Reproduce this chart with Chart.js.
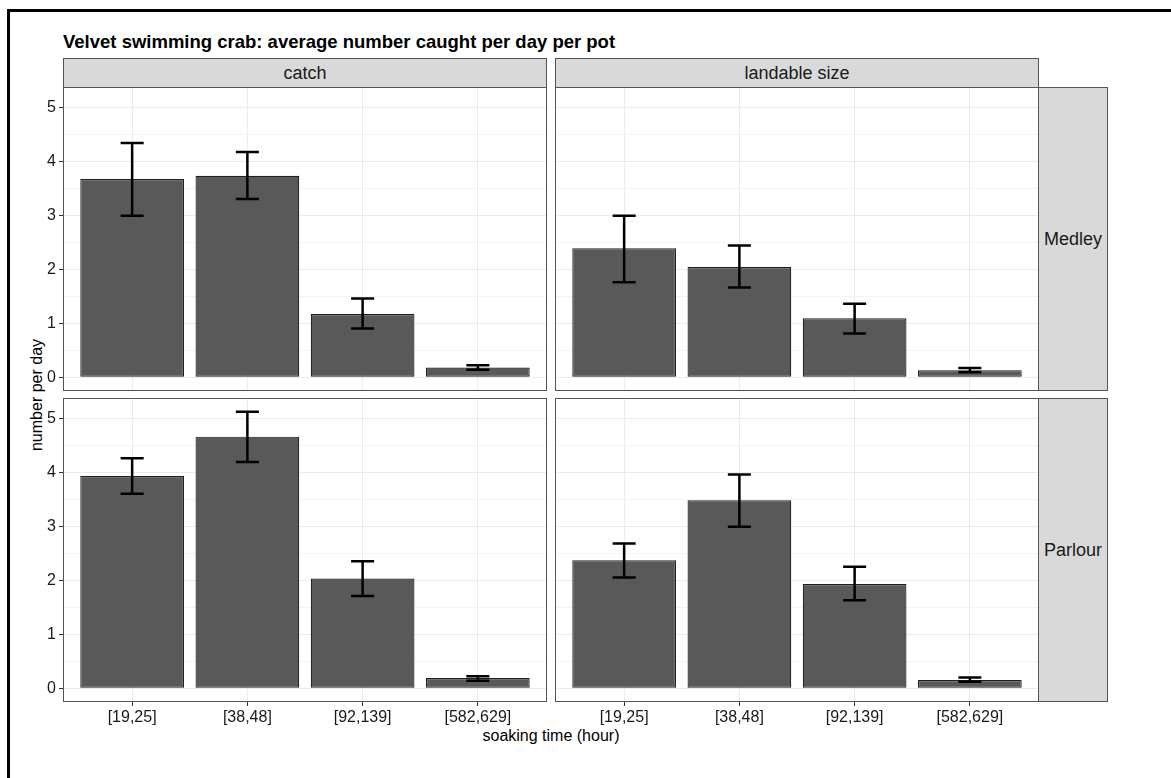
<!DOCTYPE html>
<html>
<head>
<meta charset="utf-8">
<script src="https://cdn.jsdelivr.net/npm/chart.js@4.4.0/dist/chart.umd.min.js"></script>
<style>
  body { margin: 0; width: 1171px; height: 778px; position: relative; overflow: hidden; background: #fff;
         font-family: "Liberation Sans", Arial, sans-serif; color: #000; }
  .frame { position: absolute; left: 7px; top: 9px; width: 1300px; height: 900px;
           border-left: 3px solid #000; border-top: 3px solid #000; }
  .title { position: absolute; left: 63px; top: 31px; font-weight: bold; font-size: 18.5px; line-height: 22px; }
  .strip { position: absolute; background: #d9d9d9; border: 1px solid #555; box-sizing: border-box;
           display: flex; align-items: center; justify-content: center; font-size: 18px; color: #1a1a1a; }
  .axtitle { position: absolute; font-size: 16px; line-height: 18px; white-space: nowrap; }
  canvas { position: absolute; }
</style>
</head>
<body>
<div class="frame"></div>
<div class="title">Velvet swimming crab: average number caught per day per pot</div>
<div class="axtitle" id="xtitle">soaking time (hour)</div>
<div class="axtitle" id="ytitle">number per day</div>

<script>
const soakTimes = ["[19,25]", "[38,48]", "[92,139]", "[582,629]"];
const columnNames = ["catch", "landable size"];
const rowNames = ["Medley", "Parlour"];

// mean and error bar ends
const medleyCatch = [3.67, 3.73, 1.17, 0.18];
const medleyCatchLow = [2.99, 3.30, 0.90, 0.14];
const medleyCatchHigh = [4.34, 4.17, 1.46, 0.22];

const medleyLandable = [2.39, 2.04, 1.09, 0.13];
const medleyLandableLow = [1.76, 1.66, 0.81, 0.09];
const medleyLandableHigh = [2.99, 2.44, 1.36, 0.17];

const parlourCatch = [3.93, 4.66, 2.03, 0.19];
const parlourCatchLow = [3.60, 4.19, 1.71, 0.14];
const parlourCatchHigh = [4.26, 5.12, 2.35, 0.22];

const parlourLandable = [2.37, 3.48, 1.93, 0.15];
const parlourLandableLow = [2.05, 2.99, 1.63, 0.12];
const parlourLandableHigh = [2.68, 3.96, 2.25, 0.20];

const yTicks = [0, 1, 2, 3, 4, 5];

const panels = [
  { row: 0, col: 0, mean: medleyCatch, low: medleyCatchLow, high: medleyCatchHigh },
  { row: 0, col: 1, mean: medleyLandable, low: medleyLandableLow, high: medleyLandableHigh },
  { row: 1, col: 0, mean: parlourCatch, low: parlourCatchLow, high: parlourCatchHigh },
  { row: 1, col: 1, mean: parlourLandable, low: parlourLandableLow, high: parlourLandableHigh },
];

// layout (ggplot-like facet grid)
const panelLeft = [63, 555];
const panelTop = [87, 398];
const panelW = 484;
const panelH = 304;
const yAxisW = 22;
const xAxisH = 28;

// shared y range with 5% expansion like ggplot
const yMax = Math.max(...panels.flatMap((p) => p.high));
const yMin = 0;
const ySpan = yMax - yMin;

const gridMajor = "#ebebeb";
const gridMinor = "#f4f4f4";
const tickFont = { family: "Liberation Sans", size: 16 };

function addDiv(cls, left, top, width, height, text) {
  const d = document.createElement("div");
  d.className = cls;
  d.style.left = left + "px";
  d.style.top = top + "px";
  d.style.width = width + "px";
  d.style.height = height + "px";
  d.textContent = text;
  document.body.appendChild(d);
}

columnNames.forEach((name, c) => addDiv("strip", panelLeft[c], 58, panelW, 30, name));
rowNames.forEach((name, r) => addDiv("strip", panelLeft[1] + panelW - 1, panelTop[r], 70, panelH, name));

const xt = document.getElementById("xtitle");
xt.style.left = (panelLeft[0] + (panelLeft[1] + panelW - panelLeft[0]) / 2 - 80) + "px";
xt.style.top = "727px";
xt.style.width = "160px";
xt.style.textAlign = "center";
const yt = document.getElementById("ytitle");
yt.style.left = (37 - 80) + "px";
yt.style.top = (panelTop[0] + (panelTop[1] + panelH - panelTop[0]) / 2 - 9) + "px";
yt.style.width = "160px";
yt.style.textAlign = "center";
yt.style.transform = "rotate(-90deg)";

const errorBars = {
  id: "errorBars",
  afterDatasetsDraw(chart) {
    const ds = chart.data.datasets[0];
    const xs = chart.scales.x;
    const ys = chart.scales.y;
    const ctx = chart.ctx;
    ctx.save();
    ctx.strokeStyle = "#000";
    ctx.lineWidth = 2.5;
    ds.low.forEach((lo, i) => {
      const x = xs.getPixelForValue(i + 1);
      const xl = xs.getPixelForValue(i + 0.9);
      const xr = xs.getPixelForValue(i + 1.1);
      const yl = ys.getPixelForValue(lo);
      const yh = ys.getPixelForValue(ds.high[i]);
      ctx.beginPath();
      ctx.moveTo(x, yl); ctx.lineTo(x, yh);
      ctx.moveTo(xl, yl); ctx.lineTo(xr, yl);
      ctx.moveTo(xl, yh); ctx.lineTo(xr, yh);
      ctx.stroke();
    });
    ctx.restore();
  },
  afterDraw(chart) {
    const a = chart.chartArea;
    const ctx = chart.ctx;
    ctx.save();
    ctx.strokeStyle = "#555";
    ctx.lineWidth = 1;
    ctx.strokeRect(a.left + 0.5, a.top + 0.5, a.right - a.left - 1, a.bottom - a.top - 1);
    ctx.restore();
  },
};

panels.forEach((p) => {
  const showY = p.col === 0;
  const showX = p.row === 1;
  const w = panelW + (showY ? yAxisW : 0);
  const h = panelH + (showX ? xAxisH : 0);
  const canvas = document.createElement("canvas");
  canvas.width = w;
  canvas.height = h;
  canvas.style.width = w + "px";
  canvas.style.height = h + "px";
  canvas.style.left = (panelLeft[p.col] - (showY ? yAxisW : 0)) + "px";
  canvas.style.top = panelTop[p.row] + "px";
  document.body.appendChild(canvas);

  new Chart(canvas, {
    type: "bar",
    data: {
      datasets: [{
        data: p.mean.map((v, i) => ({ x: i + 1, y: v })),
        low: p.low,
        high: p.high,
        backgroundColor: "#595959",
        borderColor: "#1f1f1f",
        borderWidth: 1.2,
        borderSkipped: false,
        barPercentage: 0.9,
        categoryPercentage: 1,
      }],
    },
    options: {
      responsive: false,
      animation: false,
      events: [],
      layout: { padding: 0 },
      plugins: { legend: { display: false }, tooltip: { enabled: false } },
      scales: {
        x: {
          type: "linear",
          min: 0.4,
          max: 4.6,
          offset: false,
          afterBuildTicks: (axis) => { axis.ticks = soakTimes.map((t, i) => ({ value: i + 1 })); },
          afterFit: (axis) => {
            axis.height = showX ? xAxisH : 0;
            axis.paddingLeft = 0; axis.paddingRight = 0;
          },
          border: { display: false },
          grid: { offset: false, color: gridMajor, lineWidth: 1, drawTicks: showX, tickLength: 4, tickColor: "#333" },
          ticks: {
            display: showX,
            autoSkip: false,
            maxRotation: 0,
            padding: 2,
            color: "#1a1a1a",
            font: tickFont,
            callback: (v) => soakTimes[v - 1] || "",
          },
        },
        y: {
          min: yMin - 0.05 * ySpan,
          max: yMax + 0.05 * ySpan,
          afterBuildTicks: (axis) => {
            const t = [];
            yTicks.forEach((v) => {
              t.push({ value: v });
              if (v + 0.5 < axis.max) t.push({ value: v + 0.5 });
            });
            axis.ticks = t;
          },
          afterFit: (axis) => {
            axis.width = showY ? yAxisW : 0;
            axis.paddingTop = 0; axis.paddingBottom = 0;
          },
          border: { display: false },
          grid: {
            drawTicks: showY,
            tickLength: 4,
            color: (c) => (c.tick && Number.isInteger(c.tick.value) ? gridMajor : gridMinor),
            tickColor: (c) => (c.tick && Number.isInteger(c.tick.value) ? "#333" : "rgba(0,0,0,0)"),
            lineWidth: 1,
          },
          ticks: {
            display: showY,
            autoSkip: false,
            padding: 3,
            color: "#1a1a1a",
            font: tickFont,
            callback: (v) => (Number.isInteger(v) ? String(v) : ""),
          },
        },
      },
    },
    plugins: [errorBars],
  });
});
</script>
</body>
</html>
